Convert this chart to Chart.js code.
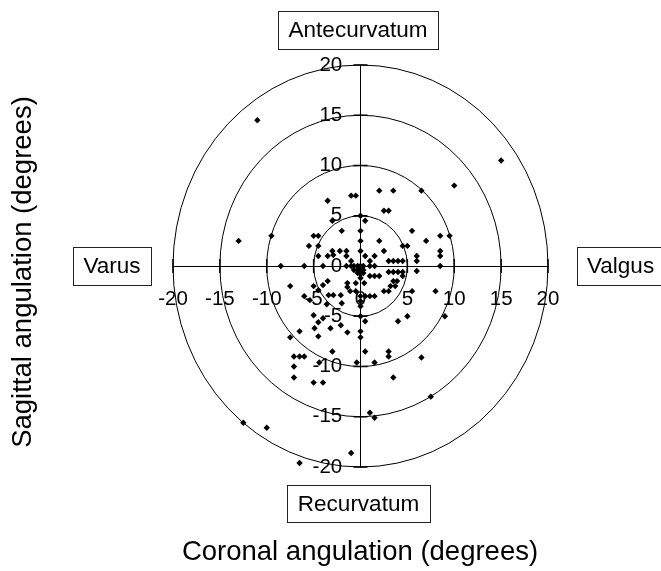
<!DOCTYPE html>
<html>
<head>
<meta charset="utf-8">
<style>
html,body{margin:0;padding:0;background:#fff;}
canvas{display:block;}
</style>
<script src="https://cdn.jsdelivr.net/npm/chart.js@4"></script>
</head>
<body>
<canvas id="c" width="661" height="571"></canvas>
<script>
// Coronal angulation (x) and sagittal angulation (y), degrees
const coronal = [
  -11, 15, 10, 6.5, 2, 3.5, -1, -0.5, -3.5, 2.5, 3, 0, 0.5, -3, -2, 0, 5.5, -13, -9.5, -5,
  -4.5, 0, 2, 7, 8.5, 9.5, -5.5, -4.5, 4.5, 5, 0, 2.5, 8.5, 8.5, -3, -2.2, -1.5, -4.5, -3.5, -2.9,
  -1.5, 0.5, 1, 1.5, -1, 6, 6, 3, 3.5, 4, 4.5,
  -8.5, -6, -4, -1.5, -1, -0.7, -0.3, 0, 0.3, 1, 1.5, 8.5,
  -0.7, -0.3, 0, 0.3, -0.3, 0, 0.3, 1, 1.5, 2, 0, -0.5, 0.4, -1.4, 3, 3.5, 4, 4.5, 4.5, 6,
  3.5, 3.9, 3.2, 3.7, 2.5, 3, 0.5, 1, 1.5, 8, 5.5, -7.5, -5, -3.5, -4, -4.5, -2.9, -3.4, -6, -5.4,
  -3.6, -2.1, -1.4, -1.1, -0.5, -2, -5, -4, -4.5, -4.9, -3.2, -2.1, -1.4, -6.5, -7.5, -4.5,
  0, 0, 0, 0, 0.5, 0, 0, 4, 5, 9, 0.5, 3, 3, 6.5, 1.5, -0.4, 3.5, 7.5, 1, 1.5,
  -3, -7.1, -6.5, -6, -4.4, -7.1, -7.1, -5, -4, -12.5, -10, -1, -6.5
];
const sagittal = [
  14.5, 10.5, 8, 7.5, 7.5, 7.5, 7, 7, 6.5, 5.5, 5.5, 5, 4.5, 4.5, 3.5, 3.5, 3.5, 2.5, 3, 3,
  3, 2.5, 2.5, 2.5, 3, 3, 2, 2, 2, 2, 1.5, 1.5, 1.5, 1, 1.5, 1.5, 1.5, 1, 1, 1.1,
  1, 1, 0.5, 1, 0.5, 1, 0.5, 0.5, 0.5, 0.5, 0.5,
  0, 0, 0, 0, 0, 0, 0, 0, 0, 0, 0, 0,
  -0.4, -0.4, -0.4, -0.4, -0.7, -0.8, -0.7, -1, -1, -1, -1.2, -1.7, -1.7, -1.7, -0.6, -0.6, -0.6, -0.6, -1, -0.5,
  -1.5, -1.5, -2, -2, -2.5, -2.5, -3, -3, -3, -2.5, -2.5, -2, -2, -1.5, -1.9, -2.4, -2.9, -2.9, -3, -3.4,
  -3.8, -2.9, -2.1, -2.5, -2.5, -3.7, -4.9, -5.2, -5.6, -6.2, -6.2, -5.9, -6.6, -6.5, -7.1, -7,
  -3, -3.5, -4, -5, -5.5, -6.5, -7.1, -5.5, -5, -5, -8.5, -8.5, -9, -9.1, -9.6, -9.6, -11.1, -13, -14.6, -15.1,
  -8.5, -9, -9, -9, -9.6, -10, -11.1, -11.6, -11.6, -15.6, -16.1, -18.6, -19.6
];
const tickValues = [-20, -15, -10, -5, 0, 5, 10, 15, 20];
const ringRadii = [5, 10, 15, 20];
const sideLabels = ['Antecurvatum', 'Varus', 'Valgus', 'Recurvatum'];
const axisTitles = ['Coronal angulation (degrees)', 'Sagittal angulation (degrees)'];

const FONT = "'Liberation Sans', Arial, sans-serif";
const points = coronal.map((x, i) => ({x: x, y: sagittal[i]}));

const decor = {
  id: 'decor',
  beforeDatasetsDraw(chart) {
    const ctx = chart.ctx, xs = chart.scales.x, ys = chart.scales.y;
    const cx = xs.getPixelForValue(0), cy = ys.getPixelForValue(0);
    ctx.save();
    ctx.strokeStyle = '#000';
    ctx.lineWidth = 1;
    ringRadii.forEach(r => {
      const rx = Math.abs(xs.getPixelForValue(r) - cx);
      const ry = Math.abs(ys.getPixelForValue(r) - cy);
      ctx.beginPath();
      ctx.ellipse(cx, cy, rx, ry, 0, 0, Math.PI * 2);
      ctx.stroke();
    });
    // crossing tick marks
    ctx.lineWidth = 1.5;
    tickValues.forEach(v => {
      if (v === 0) return;
      const py = ys.getPixelForValue(v);
      ctx.beginPath(); ctx.moveTo(cx - 7, py); ctx.lineTo(cx + 7, py); ctx.stroke();
      const px = xs.getPixelForValue(v);
      ctx.beginPath(); ctx.moveTo(px, cy - 7); ctx.lineTo(px, cy + 7); ctx.stroke();
    });
    ctx.restore();
  },
  afterDraw(chart) {
    const ctx = chart.ctx;
    ctx.save();
    ctx.fillStyle = '#000';
    ctx.strokeStyle = '#222';
    ctx.lineWidth = 1;
    ctx.font = '22.5px ' + FONT;
    ctx.textBaseline = 'middle';
    const box = (txt, x0, y0, x1, y1, align) => {
      ctx.strokeRect(x0 + 0.5, y0 + 0.5, x1 - x0, y1 - y0);
      if (align === 'left') {
        ctx.textAlign = 'left';
        ctx.fillText(txt, x0 + 10, (y0 + y1) / 2 + 1);
      } else {
        ctx.textAlign = 'center';
        ctx.fillText(txt, (x0 + x1) / 2, (y0 + y1) / 2 + 1);
      }
    };
    box(sideLabels[0], 278, 11, 438, 49);
    box(sideLabels[1], 73, 247, 151, 285);
    box(sideLabels[2], 577, 247, 670, 285, 'left');
    box(sideLabels[3], 287, 485, 430, 522);
    ctx.font = '27.5px ' + FONT;
    ctx.textAlign = 'center';
    ctx.fillText(axisTitles[0], 360, 552);
    ctx.translate(23, 272);
    ctx.rotate(-Math.PI / 2);
    ctx.fillText(axisTitles[1], 0, 0);
    ctx.restore();
  }
};

const tickFont = {size: 20.5, family: FONT};

new Chart(document.getElementById('c'), {
  type: 'scatter',
  data: {
    datasets: [{
      data: points,
      pointStyle: 'rectRot',
      pointRadius: 3.2,
      pointHoverRadius: 3.2,
      backgroundColor: '#000',
      borderColor: '#000',
      borderWidth: 0
    }]
  },
  options: {
    responsive: false,
    animation: false,
    devicePixelRatio: 1,
    events: [],
    layout: {padding: {left: 173, right: 113, top: 65, bottom: 104}},
    plugins: {legend: {display: false}, title: {display: false}, tooltip: {enabled: false}},
    scales: {
      x: {
        type: 'linear', min: -20, max: 20,
        position: {y: 0},
        afterBuildTicks: s => { s.ticks = tickValues.map(v => ({value: v})); },
        ticks: {color: '#000', font: tickFont, padding: 21, autoSkip: false, maxRotation: 0},
        grid: {display: true, drawOnChartArea: false, drawTicks: false, color: 'rgba(0,0,0,0)'},
        border: {display: true, color: '#000', width: 1}
      },
      y: {
        type: 'linear', min: -20, max: 20,
        position: {x: 0},
        afterBuildTicks: s => { s.ticks = tickValues.map(v => ({value: v})); },
        ticks: {display: false},
        grid: {display: true, drawOnChartArea: false, drawTicks: false, color: 'rgba(0,0,0,0)'},
        border: {display: true, color: '#000', width: 1}
      },
      yLabels: {
        type: 'linear', min: -20, max: 20,
        axis: 'y',
        position: {x: -1.95},
        afterBuildTicks: s => { s.ticks = tickValues.map(v => ({value: v})); },
        ticks: {color: '#000', font: tickFont, autoSkip: false},
        grid: {display: false, drawTicks: false},
        border: {display: false}
      }
    }
  },
  plugins: [decor]
});
</script>
</body>
</html>
